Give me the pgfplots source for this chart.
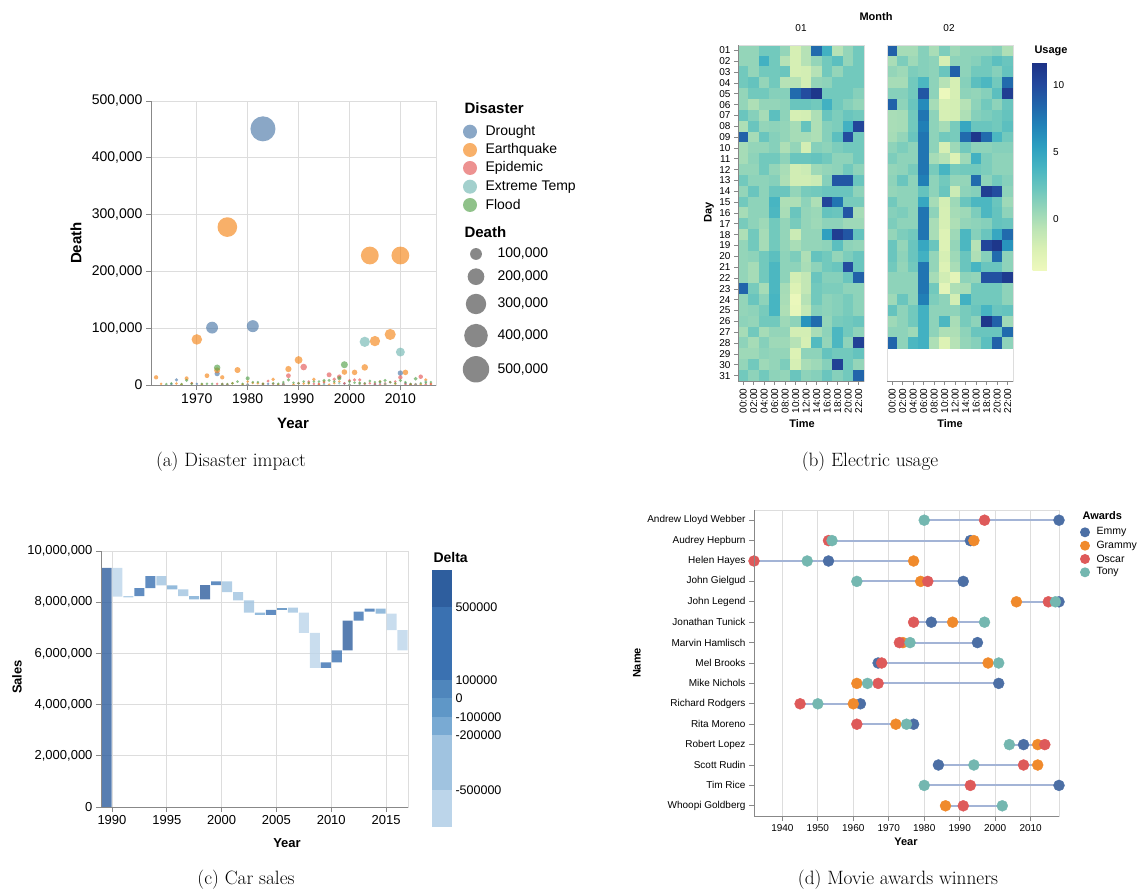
\documentclass[border=0pt]{standalone}
\usepackage{fontspec}
\usepackage{pgfplots}
\usepackage{pgfplotstable}
\pgfplotsset{compat=1.18}
\newfontfamily\lib{Liberation Sans}
\definecolor{vgrid}{HTML}{DDDDDD}
\definecolor{vaxis}{HTML}{888888}
\definecolor{cDr}{HTML}{4C78A8}
\definecolor{cEq}{HTML}{F58518}
\definecolor{cEp}{HTML}{E45756}
\definecolor{cET}{HTML}{72B7B2}
\definecolor{cFl}{HTML}{54A24B}
\definecolor{aE}{HTML}{4C6FA5}
\definecolor{aG}{HTML}{F08A2C}
\definecolor{aO}{HTML}{DE5A5A}
\definecolor{aT}{HTML}{74B7B0}
\definecolor{rulec}{HTML}{A3B4D6}
\definecolor{d1}{HTML}{2E5E9E}
\definecolor{d2}{HTML}{3A71B1}
\definecolor{d3}{HTML}{4F86BC}
\definecolor{d4}{HTML}{5F97C7}
\definecolor{d5}{HTML}{79AAD3}
\definecolor{d6}{HTML}{A0C3E0}
\definecolor{d7}{HTML}{BCD5EA}
\tikzset{tf/.style={font=\lib\fontsize{#1}{#1}\selectfont},
         tb/.style={font=\lib\bfseries\fontsize{#1}{#1}\selectfont}}
\pgfplotsset{
  colormap={ygb}{rgb255=(239,249,189) rgb255=(219,241,180) rgb255=(189,229,181) rgb255=(148,213,185) rgb255=(105,197,190) rgb255=(69,180,194) rgb255=(44,158,192) rgb255=(33,130,184) rgb255=(33,99,170) rgb255=(35,71,156) rgb255=(28,49,133)},
  vega/.style={scale only axis, anchor=south west,
    axis line style={vgrid, line width=0.7pt},
    tick align=outside, major tick length=5pt,
    tick style={vaxis, line width=0.7pt},
    xtick pos=left, ytick pos=left,
    scaled x ticks=false, scaled y ticks=false,
    /pgf/number format/assume math mode=true,
    grid style={vgrid, line width=0.7pt}},
  vframe/.style={extra description/.code={
      \draw[vaxis, line width=0.8pt] (axis description cs:0,0) -- (axis description cs:0,1);
      \draw[vaxis, line width=0.8pt] (axis description cs:0,0) -- (axis description cs:1,0);}},
  bframe/.style={extra description/.code={
      \draw[vaxis, line width=0.8pt] (axis description cs:0,0) -- (axis description cs:1,0);}},
  bub/.style={scatter, only marks, mark=*,
    scatter/use mapped color={draw=#1, draw opacity=0, fill=#1, fill opacity=0.65},
    visualization depends on={max(0.5898*sqrt(\thisrow{d}),1.4) \as \rr},
    scatter/@pre marker code/.append style={/tikz/mark size=\rr}},
  dot/.style={only marks, mark=*, mark size=5.5pt, mark options={draw=#1, fill=#1, solid}},
}
\pgfplotstableread{
x base c1 c2 c3 c4 c5 c6 c7
1989.5 0 9340000 0 0 0 0 0 0
1990.5 8220000 0 0 0 0 0 0 1120000
1991.5 8190000 0 0 0 0 0 50000 0
1992.5 8240000 0 310000 0 0 0 0 0
1993.5 8550000 0 470000 0 0 0 0 0
1994.5 8660000 0 0 0 0 0 360000 0
1995.5 8500000 0 0 0 0 160000 0 0
1996.5 8240000 0 0 0 0 0 260000 0
1997.5 8110000 0 0 0 0 130000 0 0
1998.5 8110000 560000 0 0 0 0 0 0
1999.5 8670000 0 140000 0 0 0 0 0
2000.5 8390000 0 0 0 0 0 420000 0
2001.5 8070000 0 0 0 0 0 320000 0
2002.5 7590000 0 0 0 0 0 480000 0
2003.5 7500000 0 0 0 0 90000 0 0
2004.5 7500000 0 200000 0 0 0 0 0
2005.5 7700000 0 0 90000 0 0 0 0
2006.5 7590000 0 0 0 0 0 200000 0
2007.5 6800000 0 0 0 0 0 0 790000
2008.5 5430000 0 0 0 0 0 0 1370000
2009.5 5430000 0 220000 0 0 0 0 0
2010.5 5650000 0 470000 0 0 0 0 0
2011.5 6120000 1160000 0 0 0 0 0 0
2012.5 7280000 0 350000 0 0 0 0 0
2013.5 7630000 0 120000 0 0 0 0 0
2014.5 7550000 0 0 0 0 200000 0 0
2015.5 6910000 0 0 0 0 0 0 640000
2016.5 6120000 0 0 0 0 0 0 790000
}\cars
\begin{document}
\begin{tikzpicture}[x=1pt,y=1pt]
\useasboundingbox (0,0) rectangle (1138,895);
%================ (a) Disaster impact ================
\begin{axis}[vega, vframe, at={(151pt,510pt)}, width=285pt, height=284pt,
  xmin=1961, xmax=2017, ymin=0, ymax=500, grid=major, clip=false,
  xtick={1970,1980,1990,2000,2010}, xticklabels={1970,1980,1990,2000,2010},
  ytick={0,100,200,300,400,500},
  yticklabels={0,{100,000},{200,000},{300,000},{400,000},{500,000}},
  tick label style={tf=14}]
\addplot[bub=cDr] table[x=yr,y=d] {
yr d
1983 451
1973 101
1981 103.6
1974 20
1966 9
2010 21
1965 1.5
1970 2
1984 2
1987 1
1999 2.5
2005 1.2
2011 3
};
\addplot[bub=cEq] table[x=yr,y=d] {
yr d
1976 278
2004 228
2010 228
1970 80.2
2005 77.3
2008 89
1990 44
1999 22.8
1974 25.8
1978 26.3
1988 28.1
2003 31
2001 22.2
2011 22.2
1972 16.4
1975 13.5
1962 13.5
2015 9
1968 11.7
1985 10
1993 10
1980 6
1977 3
1981 3.5
1995 6
1997 3
1998 6
2002 2.5
2006 6
1963 2
1966 2.5
1982 3
1991 2.5
1992 2.5
2009 2
2012 1
2013 1.2
2016 1.5
1987 1.5
1979 1
1967 1
1994 1
1996 0.8
2000 0.5
2007 0.6
2014 0.7
1983 2
1986 1
1989 1
1971 1
1969 3
};
\addplot[bub=cEp] table[x=yr,y=d] {
yr d
1991 31.6
1988 16.4
1996 18
1998 14.6
1997 10
2014 14.6
2010 13.5
1984 7
1992 6
2000 8
2001 9
2002 9
2009 6
1969 3
1974 2
1976 1
1983 1.5
1985 2
1990 3
1995 4
1999 3
2004 3
2007 3
2008 5
2005 2
2016 2
1975 1.5
1980 1
1987 1.5
1993 2
1994 2
2003 2
2006 1.5
2011 1.5
2012 1
2013 1
2015 1
};
\addplot[bub=cET] table[x=yr,y=d] {
yr d
2003 76
2010 58
1998 3
2015 6
1987 2
2002 2
2006 4
2007 2
1995 1.5
2013 1.5
1980 1
2000 1
};
\addplot[bub=cFl] table[x=yr,y=d] {
yr d
1974 30.4
1999 35.7
2013 11
1998 12
1980 11.7
1968 8
1988 9
2004 7
2000 6
2006 6
2007 8
1982 5
1981 5
1987 5
1978 6
1965 3
1971 2
1972 2
1973 2
1975 1.5
1977 3
1979 2
1983 2
1985 3
1986 2
1989 4
1991 6
1992 4
1993 6
1994 6
1995 8
1996 8
1997 6
2001 4
2002 4
2003 3
2005 5
2008 5
2009 3
2011 5
2012 2
2014 3
2015 4
2016 5
1964 1.5
1967 1.5
1969 2
1976 1.5
1990 3
2010 8
};
\end{axis}
\node[tb=15, rotate=90] at (76,652) {Death};
\node[tb=15] at (293,472) {Year};
\node[tb=15, anchor=west] at (461,787) {Disaster};
\fill[cDr, opacity=0.65] (470,763.3) circle (7);
\fill[cEq, opacity=0.65] (470,745) circle (7);
\fill[cEp, opacity=0.65] (470,727) circle (7);
\fill[cET, opacity=0.65] (470,708.3) circle (7);
\fill[cFl, opacity=0.65] (470,690) circle (7);
\node[tf=14, anchor=west] at (482,763.3) {Drought};
\node[tf=14, anchor=west] at (482,745) {Earthquake};
\node[tf=14, anchor=west] at (482,727) {Epidemic};
\node[tf=14, anchor=west] at (482,708.3) {Extreme Temp};
\node[tf=14, anchor=west] at (482,690) {Flood};
\node[tb=15, anchor=west] at (461,663.3) {Death};
\fill[vaxis] (476,641) circle (5.9);
\fill[vaxis] (476,618.3) circle (8.35);
\fill[vaxis] (476,591) circle (10.2);
\fill[vaxis] (476,559.3) circle (11.8);
\fill[vaxis] (476,525.7) circle (13.2);
\node[tf=14, anchor=west] at (494,641) {100,000};
\node[tf=14, anchor=west] at (494,618.3) {200,000};
\node[tf=14, anchor=west] at (494,591) {300,000};
\node[tf=14, anchor=west] at (494,559.3) {400,000};
\node[tf=14, anchor=west] at (494,525.7) {500,000};
\node[font=\fontsize{19.3}{23}\selectfont] at (231,433) {(a) Disaster impact};
%================ (b) Electric usage ================
\begin{axis}[vega, vframe, at={(738pt,514pt)}, width=126pt, height=336pt,
  xmin=-0.5, xmax=11.5, ymin=0.5, ymax=31.5, axis on top,
  colormap name=ygb, point meta min=-3.9, point meta max=11.7,
  major tick length=4pt,
  xtick={0,...,11}, xticklabels={00:00,02:00,04:00,06:00,08:00,10:00,12:00,14:00,16:00,18:00,20:00,22:00},
  xticklabel style={rotate=90, anchor=east},
  ytick={1,...,31}, yticklabels={31,30,29,28,27,26,25,24,23,22,21,20,19,18,17,16,15,14,13,12,11,10,09,08,07,06,05,04,03,02,01},
  tick label style={tf=10}]
\addplot[matrix plot*, mesh/cols=12, point meta=explicit] table[row sep=\\, x expr={\coordindex-12*floor((\coordindex+0.5)/12)}, y expr={31-floor((\coordindex+0.5)/12)}, meta=c] {
c\\
0.8\\ 0.8\\ 2\\ 2\\ 0.8\\ -2.1\\ -0.5\\ 8.2\\ 4.1\\ -0.5\\ 0.8\\ 2\\
0.8\\ 0.8\\ 4.1\\ 2\\ -0.5\\ -2.1\\ -0.5\\ 0.8\\ 2\\ 2.9\\ 0.8\\ 2\\
2\\ 0.8\\ 2\\ 2\\ 2.3\\ -2.1\\ -1.9\\ -0.5\\ 2\\ 0.8\\ 2\\ 2\\
2\\ 2.5\\ 0.8\\ 2\\ -0.5\\ -0.5\\ -1.9\\ 0.8\\ 1\\ 2\\ 2\\ 2\\
0.8\\ 2\\ 2\\ 1.3\\ 1.3\\ 8.2\\ 9.8\\ 11.3\\ 2\\ 2\\ 2\\ 1.3\\
0.8\\ -0.2\\ 0.8\\ 0.8\\ 1\\ 2.3\\ 2.3\\ 2\\ 4.1\\ 2\\ 1.3\\ 0.8\\
2.3\\ 1.3\\ 0.1\\ 2.9\\ 1\\ -2.1\\ -1.9\\ -0.2\\ 2.3\\ 1.6\\ 2.3\\ 2\\
-0.2\\ 2.3\\ 0.8\\ 1\\ 0.8\\ 0.1\\ 2.5\\ -0.2\\ 1.3\\ 1.6\\ 4.1\\ 10.3\\
8.7\\ 0.1\\ 2.3\\ 1.3\\ 0.8\\ 0.1\\ 0.1\\ -0.2\\ 1.3\\ 2.9\\ 9.8\\ 2\\
0.1\\ 0.8\\ 0.8\\ 1.3\\ -0.2\\ 0.8\\ -1.9\\ 1.3\\ 1\\ 1.6\\ 2\\ 2\\
0.1\\ 1\\ 2\\ 2\\ 1\\ 2.3\\ 2.3\\ 2.5\\ 2\\ 1\\ 1\\ 2\\
0.8\\ 0.8\\ 2\\ 0.8\\ 0\\ -1.8\\ -1.5\\ 0.4\\ 0.8\\ 1\\ 2\\ 1\\
2\\ 1\\ 1\\ 1.3\\ -0.2\\ -1.8\\ -1.8\\ -1.5\\ 1.3\\ 9.3\\ 9.3\\ 2.3\\
0.8\\ 2.3\\ 1\\ 2.3\\ 2.3\\ 0.8\\ 1.8\\ 2\\ 2.3\\ 2.3\\ 2.3\\ 1\\
2\\ 1\\ 1\\ 3.8\\ -0.2\\ -0.2\\ 1\\ -0.2\\ 10.3\\ 7.7\\ 1.8\\ 1.8\\
0.1\\ 1\\ 1\\ 3.6\\ 0\\ 2.3\\ 0.8\\ 0.5\\ 2.5\\ 2.3\\ 9.3\\ 0.1\\
1.8\\ 1\\ 0.4\\ 2\\ 0.8\\ 1.8\\ 0.8\\ 0.4\\ 1\\ 1\\ 0.4\\ 0.4\\
-0.2\\ 2\\ 0.1\\ 2\\ 0.8\\ -1.5\\ 0.8\\ 0.8\\ 5.3\\ 10.8\\ 9.3\\ 2.5\\
0.8\\ 2\\ 0.1\\ 2\\ 0.8\\ 0\\ 0.8\\ 0.8\\ 1\\ 2.9\\ 1\\ 0.8\\
0.8\\ 1\\ 2\\ 2.9\\ 1\\ 1.6\\ -0.2\\ 2.5\\ 2\\ 0.8\\ 1.6\\ 2.3\\
0.8\\ 0.1\\ 2\\ 3.6\\ 1\\ 1\\ 0\\ 1\\ 2\\ 2.3\\ 9.8\\ 2.3\\
0.8\\ 0.1\\ 2\\ 3.6\\ 1\\ -1.9\\ -1.1\\ 2.3\\ 1.3\\ 1.3\\ 2.3\\ 8.7\\
8.5\\ 1.8\\ 0.1\\ 3.6\\ 0.1\\ -2.5\\ -1.1\\ 2\\ 1.6\\ 1.6\\ 1\\ 1\\
0.8\\ 2.3\\ 1\\ 3.8\\ 0\\ -3.5\\ -0.5\\ 2\\ 1\\ 1.3\\ 1.8\\ 1\\
0.8\\ 1\\ 1.8\\ 3.8\\ -0.2\\ -3.3\\ -1.2\\ 1.3\\ 1\\ 1.3\\ 1.8\\ 1\\
1\\ 0.8\\ 2\\ 2\\ 0.4\\ 1\\ 6\\ 8.2\\ 0.8\\ 1.8\\ 2\\ 2.3\\
0.1\\ 2\\ 0.1\\ 0.8\\ 0.8\\ -1.9\\ -1.9\\ 0\\ 1\\ 3.6\\ 2\\ 1\\
1\\ 0.1\\ 1.3\\ 0.4\\ 0.4\\ -0.5\\ -2.1\\ 3.3\\ 0.8\\ 3.6\\ 1\\ 10.6\\
0.4\\ 0.4\\ 1\\ 0.8\\ 0.8\\ -2.5\\ 1\\ 1\\ 2.5\\ 2\\ 2\\ 2.5\\
0.8\\ 2\\ 0.4\\ 0.8\\ 1.6\\ -2.1\\ 0\\ 0.4\\ 1.3\\ 10.6\\ 2\\ 0.8\\
2\\ 1\\ 2\\ 1\\ 0.8\\ 2.3\\ 1\\ 1.3\\ 2.3\\ 1.3\\ 2\\ 8.5\\
};
\end{axis}
\begin{axis}[vega, bframe, at={(887pt,514pt)}, width=126pt, height=336pt,
  xmin=-0.5, xmax=11.5, ymin=0.5, ymax=31.5, axis on top,
  colormap name=ygb, point meta min=-3.9, point meta max=11.7,
  major tick length=4pt,
  xtick={0,...,11}, xticklabels={00:00,02:00,04:00,06:00,08:00,10:00,12:00,14:00,16:00,18:00,20:00,22:00},
  xticklabel style={rotate=90, anchor=east}, ytick=\empty,
  tick label style={tf=10},
  colorbar,
  colorbar style={at={(parent axis.north east)}, anchor=north west, xshift=11pt, yshift=-17pt,
    scale only axis, width=17pt, height=209pt, ytick={0,5,10},
    yticklabel style={tf=10}, axis line style={draw=none}, major tick length=0pt,
    tick style={draw=none}, /pgf/number format/assume math mode=true}]
\addplot[matrix plot*, mesh/cols=12, point meta=explicit] table[row sep=\\, x expr={\coordindex-12*floor((\coordindex+0.5)/12)}, y expr={31-floor((\coordindex+0.5)/12)}, meta=c] {
c\\
8.7\\ 0.1\\ 0.1\\ 1.3\\ 0\\ 1.6\\ 0.4\\ 1\\ 1\\ 1\\ 1.3\\ -0.2\\
0\\ 1.6\\ 0.4\\ 1.3\\ 1\\ -2.1\\ 1\\ 1\\ 1.3\\ 2\\ 2.9\\ 2.3\\
0.8\\ 0.4\\ 1.6\\ 1.3\\ 1\\ 2.3\\ 8.7\\ 1\\ 2\\ 2\\ 1.3\\ 2.5\\
0.1\\ 0.1\\ 2\\ 3.6\\ 1\\ -0.5\\ -2.1\\ 1.3\\ 2.9\\ 3.6\\ 2\\ 8.2\\
1.3\\ 1.3\\ 2\\ 9.3\\ 1\\ -3.7\\ -2.1\\ 1\\ 0.8\\ 1.3\\ 2.9\\ 10.8\\
8.7\\ 1\\ 2.3\\ 6.5\\ 0.1\\ -2.1\\ -1.9\\ -0.5\\ 1\\ 2\\ 1\\ 2.3\\
0\\ 0.1\\ 2\\ 7.7\\ 1\\ -2.1\\ -1.9\\ -0.2\\ 1.3\\ 1.6\\ 2\\ 2.5\\
0\\ 0.1\\ 2\\ 7.2\\ 1\\ 0.1\\ 1.8\\ 4.8\\ 2.3\\ 2.3\\ 2\\ 2.9\\
0.1\\ 0.8\\ 2.3\\ 7.7\\ 1\\ 2\\ 1.8\\ 8.2\\ 11.3\\ 8.2\\ 3.6\\ 2\\
1\\ 1.6\\ 1\\ 7.7\\ 1\\ -2.1\\ 0.4\\ 2\\ 1\\ 1\\ 1.3\\ 1.3\\
1.6\\ 1\\ 1\\ 7.7\\ 0.1\\ -0.5\\ -2.5\\ 0.4\\ 4.1\\ 1.6\\ 1\\ 1\\
0.8\\ 1\\ 1.8\\ 7.7\\ 1.8\\ 3.8\\ 1.8\\ 2\\ 2\\ 1.6\\ 1\\ 1\\
1\\ 2.3\\ 1\\ 7.2\\ 1\\ 2\\ 0.8\\ 0.8\\ 8.2\\ 1\\ 2\\ 1.3\\
0.8\\ 1\\ 1\\ 2.5\\ 1\\ 2.3\\ -1.5\\ 1\\ 1.3\\ 10.8\\ 9.8\\ 1\\
2\\ 1\\ 1\\ 4.8\\ 0.1\\ -1.9\\ 0.4\\ 2.3\\ 3.6\\ 3.6\\ 2.3\\ 0.4\\
1.3\\ 1.6\\ 1\\ 7.7\\ 1\\ -2.1\\ 0.1\\ 0.4\\ 1.6\\ 3.6\\ 2.5\\ 1\\
1.6\\ 1\\ 1\\ 7.7\\ 0\\ -2.1\\ -0.2\\ 0.8\\ 1\\ 1.3\\ 2.5\\ 2.3\\
0.8\\ 1.6\\ 2\\ 7.7\\ 0\\ -2.5\\ 0.4\\ 3.6\\ 1.3\\ 2.3\\ 4.8\\ 8.2\\
2.3\\ 0.8\\ 2.3\\ 4.8\\ 2.3\\ -2.5\\ 0.8\\ 3.6\\ -0.5\\ 10.3\\ 11.3\\ 6\\
2.3\\ 1\\ 2.3\\ 4.1\\ 0.8\\ -2.1\\ 0.4\\ 2.3\\ -0.2\\ 1.3\\ 8.2\\ 1\\
2\\ 0.8\\ 2\\ 7.7\\ 0.8\\ -2.5\\ 0\\ 2.3\\ 3.8\\ 2.3\\ 2.3\\ 1\\
1\\ 1\\ 1\\ 7.7\\ 0.1\\ -1.8\\ -3\\ 1\\ 0.8\\ 9.6\\ 9.6\\ 11\\
1\\ 1\\ 1\\ 7.7\\ 2\\ -3\\ -0.2\\ 0\\ 2\\ 2\\ 2\\ 1\\
0.4\\ 2.3\\ 1\\ 7.2\\ 1.6\\ 1\\ -1.9\\ 4.1\\ 2\\ 2\\ 2\\ 1\\
2.5\\ 1\\ 2\\ 4.1\\ 1\\ 1\\ 1\\ 1.8\\ 2.3\\ 3.8\\ 2.3\\ 2.5\\
0.4\\ 1\\ 2\\ 4.1\\ 1\\ 3.6\\ 0\\ 1.8\\ 1\\ 11.3\\ 8.7\\ 0.4\\
1\\ 1\\ 0.4\\ 4.1\\ 1\\ -0.2\\ -0.2\\ 1\\ 2.3\\ 2.3\\ 2.3\\ 8.2\\
8.5\\ 1\\ 3.6\\ 4.1\\ -0.2\\ -2.5\\ -0.5\\ 0.8\\ 1.3\\ 2.9\\ 8.7\\ 1\\
};
\end{axis}
\node[tb=11] at (876,878) {Month};
\node[tf=10] at (801,867) {01};
\node[tf=10] at (949,867) {02};
\node[tb=11, rotate=90] at (709,683) {Day};
\node[tb=11] at (802,471) {Time};
\node[tb=11] at (950,471) {Time};
\node[tb=11, anchor=west] at (1031,844) {Usage};
\node[font=\fontsize{19.3}{23}\selectfont] at (870,433) {(b) Electric usage};
%================ (c) Car sales ================
\begin{axis}[vega, vframe, at={(101pt,88pt)}, width=307pt, height=256pt,
  ybar stacked, bar width=0.92,
  xmin=1989, xmax=2017, ymin=0, ymax=10000000, grid=major,
  xtick={1990,1995,2000,2005,2010,2015}, xticklabels={1990,1995,2000,2005,2010,2015},
  ytick={0,2000000,4000000,6000000,8000000,10000000},
  yticklabels={0,{2,000,000},{4,000,000},{6,000,000},{8,000,000},{10,000,000}},
  tick label style={tf=13}]
\addplot[draw=none, fill=none] table[x=x, y=base] {\cars};
\addplot[draw=none, fill=d1, fill opacity=0.8] table[x=x, y=c1] {\cars};
\addplot[draw=none, fill=d2, fill opacity=0.8] table[x=x, y=c2] {\cars};
\addplot[draw=none, fill=d3, fill opacity=0.8] table[x=x, y=c3] {\cars};
\addplot[draw=none, fill=d4, fill opacity=0.8] table[x=x, y=c4] {\cars};
\addplot[draw=none, fill=d5, fill opacity=0.8] table[x=x, y=c5] {\cars};
\addplot[draw=none, fill=d6, fill opacity=0.8] table[x=x, y=c6] {\cars};
\addplot[draw=none, fill=d7, fill opacity=0.8] table[x=x, y=c7] {\cars};
\end{axis}
\node[tb=13, rotate=90] at (17,218) {Sales};
\node[tb=13] at (287,52) {Year};
\node[tb=14, anchor=west] at (430,338) {Delta};
\fill[d1] (431.7,325) rectangle (451.7,288.3);
\fill[d2] (431.7,288.3) rectangle (451.7,215);
\fill[d3] (431.7,215) rectangle (451.7,196.7);
\fill[d4] (431.7,196.7) rectangle (451.7,178.3);
\fill[d5] (431.7,178.3) rectangle (451.7,160);
\fill[d6] (431.7,160) rectangle (451.7,105);
\fill[d7] (431.7,105) rectangle (451.7,68.3);
\node[tf=12.5, anchor=west] at (452,288.3) {500000};
\node[tf=12.5, anchor=west] at (452,215) {100000};
\node[tf=12.5, anchor=west] at (452,196.7) {0};
\node[tf=12.5, anchor=west] at (452,178.3) {-100000};
\node[tf=12.5, anchor=west] at (452,160) {-200000};
\node[tf=12.5, anchor=west] at (452,105) {-500000};
\node[font=\fontsize{19.3}{23}\selectfont] at (246,15) {(c) Car sales};
%================ (d) Movie awards winners ================
\begin{axis}[vega, vframe, at={(754pt,79pt)}, width=305pt, height=306pt,
  xmin=1932, xmax=2018, ymin=-0.5, ymax=14.5, xmajorgrids=true, clip=false,
  xtick={1940,1950,1960,1970,1980,1990,2000,2010}, xticklabels={1940,1950,1960,1970,1980,1990,2000,2010},
  ytick={0,...,14},
  yticklabels={Whoopi Goldberg,Tim Rice,Scott Rudin,Robert Lopez,Rita Moreno,Richard Rodgers,Mike Nichols,Mel Brooks,Marvin Hamlisch,Jonathan Tunick,John Legend,John Gielgud,Helen Hayes,Audrey Hepburn,Andrew Lloyd Webber},
  tick label style={tf=10}]
\addplot[rulec, line width=2pt, unbounded coords=jump] coordinates {
(1980,14) (2018,14) (nan,nan) (1953,13) (1994,13) (nan,nan) (1932,12) (1977,12) (nan,nan)
(1961,11) (1991,11) (nan,nan) (2006,10) (2018,10) (nan,nan) (1977,9) (1997,9) (nan,nan)
(1973,8) (1995,8) (nan,nan) (1967,7) (2001,7) (nan,nan) (1961,6) (2001,6) (nan,nan)
(1945,5) (1962,5) (nan,nan) (1961,4) (1977,4) (nan,nan) (2004,3) (2014,3) (nan,nan)
(1984,2) (2012,2) (nan,nan) (1980,1) (2018,1) (nan,nan) (1986,0) (2002,0)};
\addplot[dot=aE] coordinates {
(2018,14) (1993,13) (1953,12) (1991,11) (2018,10) (1982,9) (1995,8) (1967,7) (2001,6) (1962,5) (1977,4) (2008,3) (1984,2) (2018,1)};
\addplot[dot=aG] coordinates {
(1994,13) (1977,12) (1979,11) (2006,10) (1988,9) (1974,8) (1998,7) (1961,6) (1960,5) (1972,4) (2012,3) (2012,2) (1986,0)};
\addplot[dot=aO] coordinates {
(1997,14) (1953,13) (1932,12) (1981,11) (2015,10) (1977,9) (1973,8) (1968,7) (1967,6) (1945,5) (1961,4) (2014,3) (2008,2) (1993,1) (1991,0)};
\addplot[dot=aT] coordinates {
(1980,14) (1954,13) (1947,12) (1961,11) (2017,10) (1997,9) (1976,8) (2001,7) (1964,6) (1950,5) (1975,4) (2004,3) (1994,2) (1980,1) (2002,0)};
\end{axis}
\node[tb=11, rotate=90] at (637,232) {Name};
\node[tb=11] at (906,53) {Year};
\node[tb=11, anchor=west] at (1079,379.4) {Awards};
\fill[aE] (1085,362.7) circle (5);
\fill[aG] (1085,349.3) circle (5);
\fill[aO] (1085,336) circle (5);
\fill[aT] (1085,322.7) circle (5);
\node[tf=10.5, anchor=west] at (1093,362.7) {Emmy};
\node[tf=10.5, anchor=west] at (1093,349.3) {Grammy};
\node[tf=10.5, anchor=west] at (1093,336) {Oscar};
\node[tf=10.5, anchor=west] at (1093,322.7) {Tony};
\node[font=\fontsize{19.3}{23}\selectfont] at (898,15) {(d) Movie awards winners};
\end{tikzpicture}
\end{document}
